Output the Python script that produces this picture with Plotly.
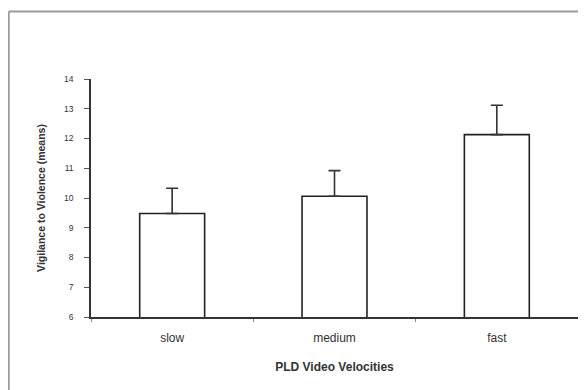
import plotly.graph_objects as go

categories = ["slow", "medium", "fast"]
means = [9.48, 10.06, 12.13]
errors = [0.85, 0.86, 0.99]
y_ticks = [6, 7, 8, 9, 10, 11, 12, 13, 14]

fig = go.Figure()
fig.add_trace(go.Bar(
    x=categories,
    y=means,
    width=0.4,
    marker=dict(color="white", line=dict(color="#222222", width=1.6)),
    error_y=dict(type="data", array=errors, arrayminus=[0] * len(errors),
                 symmetric=False, color="#333333", thickness=1.6, width=6),
    showlegend=False,
))

frame = dict(color="#9a9a9a", width=2)
fig.update_layout(
    width=600, height=400,
    margin=dict(l=83, r=30, t=71, b=91),
    paper_bgcolor="white", plot_bgcolor="white",
    font=dict(family="Liberation Sans, Arial, sans-serif", color="#222222"),
    xaxis=dict(
        range=[-0.5, 2.5], automargin=False,
        showline=True, linecolor="#333333", linewidth=1.5,
        ticks="outside", tickson="boundaries", ticklen=3, tickcolor="#888888",
        ticklabelstandoff=9,
        tickfont=dict(size=12, color="#333333"),
        title=dict(text="<b>PLD Video Velocities</b>", font=dict(size=12, color="#333333"), standoff=18),
        showgrid=False, zeroline=False,
    ),
    yaxis=dict(
        range=[6, 14], automargin=False,
        tickvals=y_ticks,
        showline=True, linecolor="#333333", linewidth=1.5,
        ticks="outside", ticklen=5, tickcolor="#555555",
        ticklabelstandoff=9,
        tickfont=dict(size=8.5, color="#333333"),
        title=dict(text="<b>Vigilance to Violence (means)</b>", font=dict(size=10.5, color="#333333"), standoff=16),
        showgrid=False, zeroline=False,
    ),
    shapes=[
        dict(type="line", xref="paper", yref="paper", x0=-0.169, x1=-0.169, y0=-0.6, y1=1.284,
             line=frame, layer="below"),
        dict(type="line", xref="paper", yref="paper", x0=-0.169, x1=1.2, y0=1.284, y1=1.284,
             line=frame, layer="below"),
    ],
)

fig.write_html("out.html")
